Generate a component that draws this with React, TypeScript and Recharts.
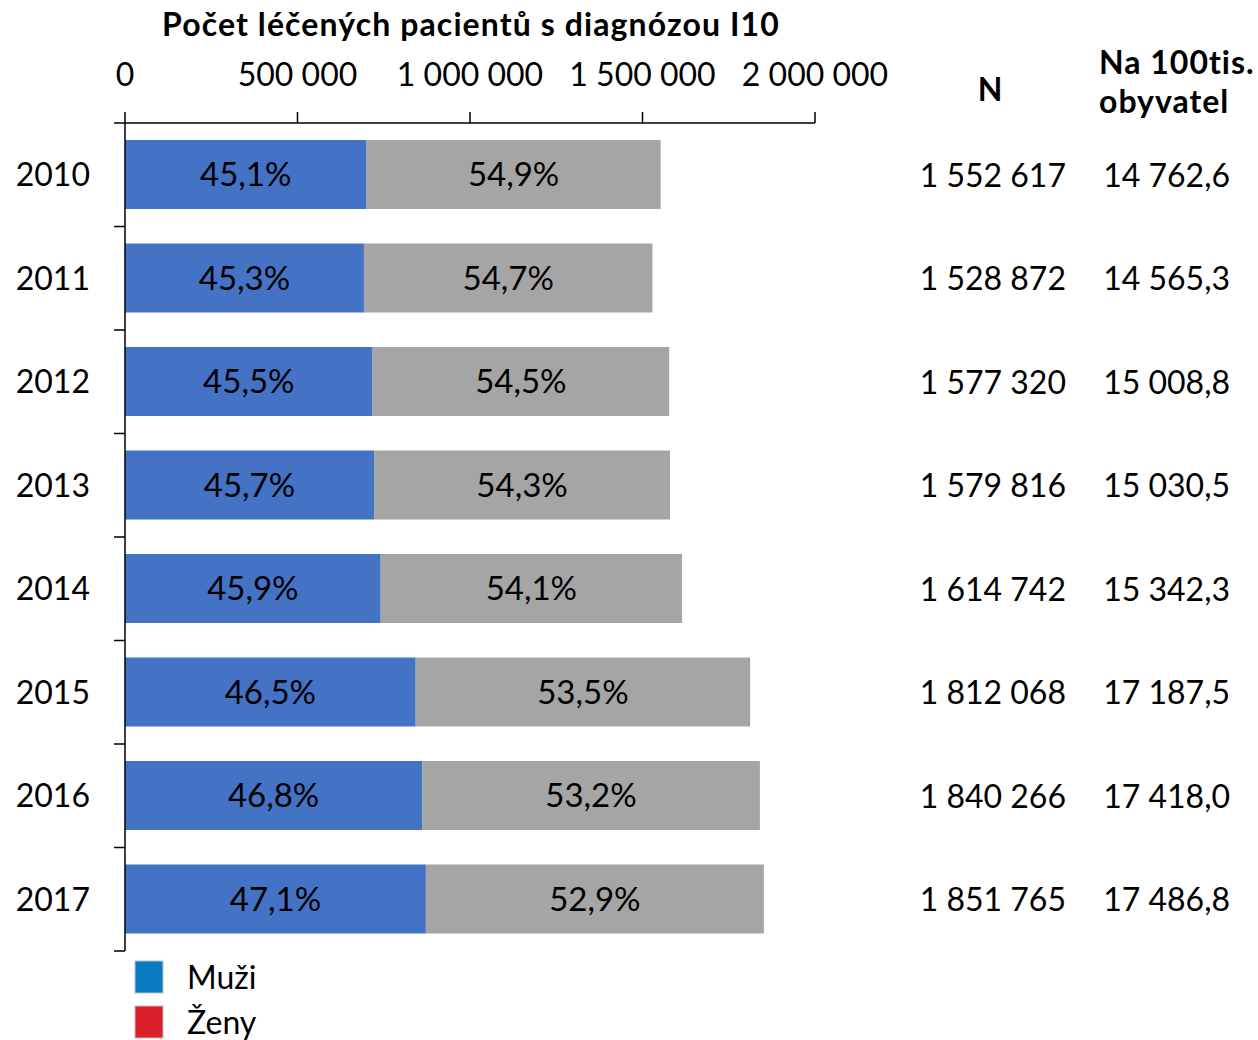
import * as React from 'react'
import { BarChart, Bar, XAxis, YAxis, LabelList, Customized } from 'recharts'

// values
const years = ['2010', '2011', '2012', '2013', '2014', '2015', '2016', '2017']
const totalN = [1552617, 1528872, 1577320, 1579816, 1614742, 1812068, 1840266, 1851765]
const muziPct = [45.1, 45.3, 45.5, 45.7, 45.9, 46.5, 46.8, 47.1]
const zenyPct = [54.9, 54.7, 54.5, 54.3, 54.1, 53.5, 53.2, 52.9]
const per100k = [14762.6, 14565.3, 15008.8, 15030.5, 15342.3, 17187.5, 17418.0, 17486.8]
const xTicks = [0, 500000, 1000000, 1500000, 2000000]
const legendNames = ['Muži', 'Ženy']
const legendColors = ['#0A7CC4', '#DA1F2A']

const title = 'Počet léčených pacientů s diagnózou I10'
const headerN = 'N'
const headerRate = ['Na 100tis.', 'obyvatel']

const FONT = 'Lato, "Noto Sans", sans-serif'
const W = 1258
const H = 1040
const PLOT_TOP = 123
const PLOT_BOTTOM = 951
const AXIS_X = 125
const BAND = (PLOT_BOTTOM - PLOT_TOP) / years.length

const groupInt = (n: number) =>
  String(Math.round(n)).replace(/\B(?=(\d{3})+(?!\d))/g, ' ')
const fmtDec = (n: number) => {
  const [i, d] = n.toFixed(1).split('.')
  return `${groupInt(Number(i))},${d}`
}
const fmtPct = (v: any) => `${Number(v).toFixed(1).replace('.', ',')}%`

const data = years.map((year, i) => ({
  year,
  muzi: (totalN[i] * muziPct[i]) / 100,
  zeny: (totalN[i] * zenyPct[i]) / 100,
  muziPct: muziPct[i],
  zenyPct: zenyPct[i],
  n: totalN[i],
  rate: per100k[i],
}))

const YearTick = (props: any) => {
  const { y, payload, index } = props
  const i = index as number
  return (
    <g>
      <line x1={AXIS_X - 11} x2={AXIS_X} y1={y - BAND / 2} y2={y - BAND / 2} stroke="#000" strokeWidth={1.5} />
      {i === years.length - 1 && (
        <line x1={AXIS_X - 11} x2={AXIS_X} y1={y + BAND / 2} y2={y + BAND / 2} stroke="#000" strokeWidth={1.5} />
      )}
      <text x={90} y={y} dy="0.36em" textAnchor="end" fontSize={32} fontFamily={FONT} fill="#000">
        {payload.value}
      </text>
      <text x={1066} y={y} dy="0.38em" textAnchor="end" fontSize={32} fontFamily={FONT} fill="#000">
        {groupInt(totalN[i])}
      </text>
      <text x={1230} y={y} dy="0.38em" textAnchor="end" fontSize={32} fontFamily={FONT} fill="#000">
        {fmtDec(per100k[i])}
      </text>
    </g>
  )
}

const Overlay = () => (
  <g fontFamily={FONT} fill="#000">
    <text x={471} y={36} textAnchor="middle" fontSize={32} fontWeight="bold" letterSpacing={1.1}>
      {title}
    </text>
    <text x={990} y={101} textAnchor="middle" fontSize={32} fontWeight="bold">
      {headerN}
    </text>
    {headerRate.map((t, i) => (
      <text key={t} x={1099} y={74 + i * 39} fontSize={32} fontWeight="bold" letterSpacing={1}>
        {t}
      </text>
    ))}
    {legendNames.map((name, i) => (
      <g key={name}>
        <rect x={135} y={961 + i * 45} width={28} height={32} fill={legendColors[i]} stroke="#BFBFBF" strokeWidth={1} />
        <text x={187} y={989 + i * 45} fontSize={32}>
          {name}
        </text>
      </g>
    ))}
  </g>
)

export default function App() {
  return (
    <div style={{ position: 'absolute', left: 0, top: 0 }}>
      <BarChart
        width={W}
        height={H}
        data={data}
        layout="vertical"
        margin={{ top: 60, right: W - 815, bottom: H - PLOT_BOTTOM, left: 0 }}
        barSize={69}
        style={{ fontFamily: FONT }}
      >
        <XAxis
          type="number"
          orientation="top"
          height={PLOT_TOP - 60}
          domain={[0, 2000000]}
          ticks={xTicks}
          interval={0}
          tickFormatter={groupInt}
          tickSize={11}
          tickMargin={26}
          stroke="#000"
          strokeWidth={1.5}
          tick={{ fill: '#000', fontSize: 32, fontFamily: FONT }}
        />
        <YAxis
          type="category"
          dataKey="year"
          width={AXIS_X}
          tickLine={false}
          stroke="#000"
          strokeWidth={1.5}
          tick={<YearTick />}
          interval={0}
        />
        <Bar dataKey="muzi" stackId="a" fill="#4472C4" isAnimationActive={false}>
          <LabelList dataKey="muziPct" position="center" formatter={fmtPct} fill="#000" fontSize={33} fontFamily={FONT} />
        </Bar>
        <Bar dataKey="zeny" stackId="a" fill="#A5A5A5" isAnimationActive={false}>
          <LabelList dataKey="zenyPct" position="center" formatter={fmtPct} fill="#000" fontSize={33} fontFamily={FONT} />
        </Bar>
        <Customized component={Overlay} />
      </BarChart>
    </div>
  )
}
